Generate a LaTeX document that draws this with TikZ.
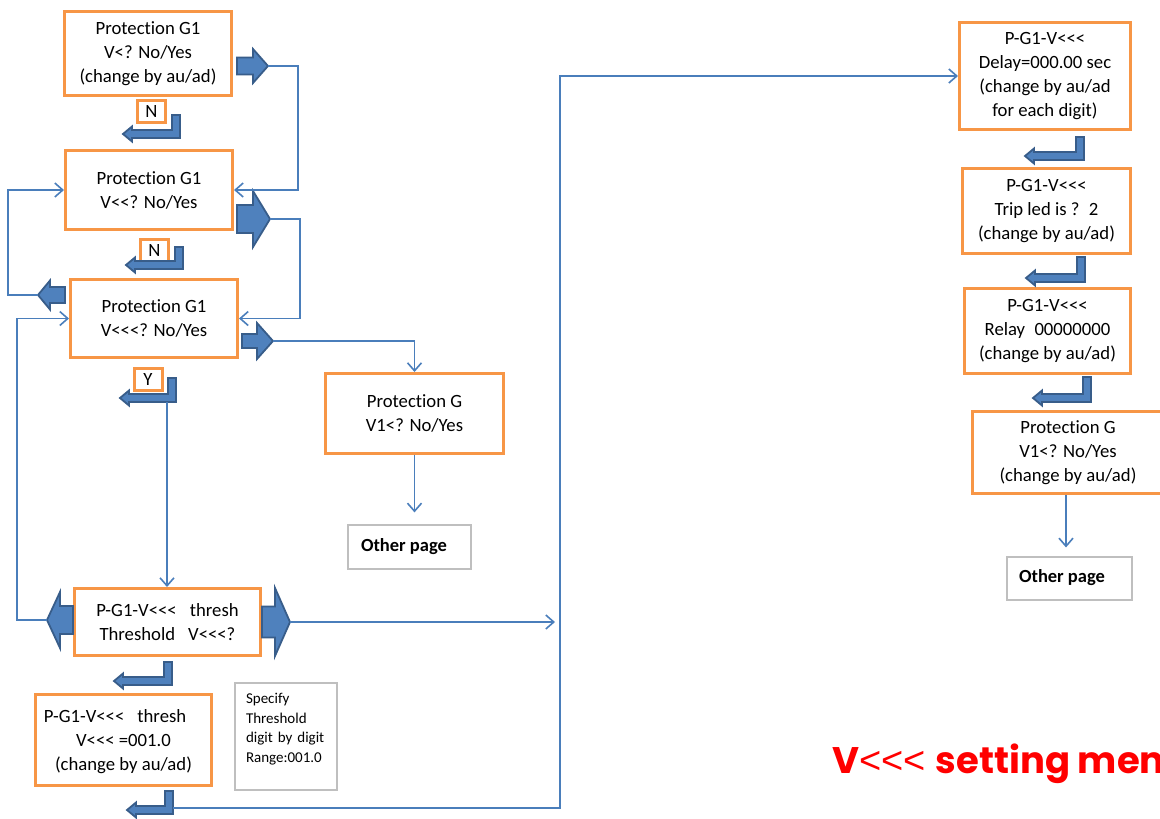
\documentclass[tikz,border=0pt]{standalone}
\usepackage{fontspec}
\setmainfont{Carlito}[Ligatures={TeXOff,CommonOff}]
\newfontfamily\titlefont{Poppins}[Ligatures={TeXOff}]
\newfontfamily\titlesym{Liberation Sans}[Ligatures={TeXOff}]
\usetikzlibrary{arrows.meta}

\definecolor{boxorange}{HTML}{F79646}
\definecolor{arrowfill}{HTML}{4F81BD}
\definecolor{arrowedge}{HTML}{385D8A}
\definecolor{linkblue}{HTML}{4A7EBB}
\definecolor{notegray}{HTML}{BFBFBF}
\definecolor{titlered}{HTML}{FF0000}

% left-turning bent arrow: #1 right edge, #2 top, #3 bottom, #4 tip x
\newcommand{\bentarr}[4]{%
  \filldraw[blockarrow] (#1-8,#2) -- (#1,#2) -- (#1,#3) -- (#4+9,#3)
    -- (#4+9,#3+3.5) -- (#4,#3-4) -- (#4+9,#3-11.5) -- (#4+9,#3-8)
    -- (#1-8,#3-8) -- cycle;}
% straight block arrow: #1 tail x, #2 head base x, #3 tip x, #4 centre y,
% #5 shaft half width, #6 head half width, #7 name of the tip
\newcommand{\blockarr}[7]{%
  \filldraw[blockarrow] (#1,#4-#5) -- (#2,#4-#5) -- (#2,#4-#6) -- (#3,#4)
    -- (#2,#4+#6) -- (#2,#4+#5) -- (#1,#4+#5) -- cycle;
  \coordinate (#7) at (#3,#4);}

\tikzset{
  menubox/.style={draw=boxorange, line width=3pt, fill=white, align=center,
    inner sep=0pt, font=\fontsize{18.7}{24}\selectfont},
  tagbox/.style={draw=boxorange, line width=3pt, fill=white, inner sep=0pt,
    minimum width=28pt, minimum height=22pt, font=\fontsize{18.7}{20}\selectfont},
  pagebox/.style={draw=notegray, line width=1.2pt, fill=white, inner sep=0pt,
    font=\bfseries\fontsize{18.5}{20}\selectfont},
  notebox/.style={draw=notegray, line width=1.2pt, fill=white, align=left,
    inner xsep=11pt, inner ysep=0pt, font=\fontsize{15}{19.5}\selectfont},
  blockarrow/.style={fill=arrowfill, draw=arrowedge, line width=1.8pt,
    line join=miter},
  conn/.style={draw=linkblue, line width=1.6pt,
    -{Straight Barb[length=8pt,width=14pt]}},
}

\begin{document}
\begin{tikzpicture}[x=1pt,y=-1pt]
\useasboundingbox (0,0) rectangle (1160,819);
\clip (0,0) rectangle (1160,819);
\fill[white] (0,0) rectangle (1160,819);

% left column of menu screens
\node[menubox, minimum width=167pt, minimum height=84pt] (box1) at (148,53.5)
  {Protection G1\\V<? No/Yes\\(change by au/ad)};
\node[menubox, minimum width=167pt, minimum height=79pt] (box2) at (149,190)
  {Protection G1\\V<<? No/Yes};
\node[menubox, minimum width=167pt, minimum height=78pt] (box3) at (154,318.5)
  {Protection G1\\V<<<? No/Yes};
\node[menubox, minimum width=178pt, minimum height=80pt] (box4) at (414.5,413.5)
  {Protection G\\V1<? No/Yes};
\node[menubox, minimum width=186pt, minimum height=67pt] (box5) at (167.5,622)
  {P-G1-V<<<\hspace{0.7em}thresh\\Threshold\hspace{0.7em}V<<<?};
\node[menubox, minimum width=176pt, minimum height=91pt] (box6) at (123.5,740)
  {P-G1-V<<<\hspace{0.7em}thresh\hspace{0.9em}\strut\\V<<< =001.0\\(change by au/ad)};

% right column of menu screens
\node[menubox, minimum width=171pt, minimum height=107pt] (box7) at (1045,76)
  {P-G1-V<<<\\Delay=000.00 sec\\(change by au/ad\\for each digit)};
\node[menubox, minimum width=168pt, minimum height=85pt] (box8) at (1046.5,211)
  {P-G1-V<<<\\Trip led is ?\hspace{0.5em}2\\(change by au/ad)};
\node[menubox, minimum width=166pt, minimum height=85pt] (box9) at (1047.5,331)
  {P-G1-V<<<\\Relay\hspace{0.5em}00000000\\(change by au/ad)};
\node[menubox, minimum width=191pt, minimum height=82pt] (box10) at (1068,452.5)
  {Protection G\\V1<? No/Yes\\(change by au/ad)};

% answer tags
\node[tagbox] (tagn1) at (151.5,111.5) {N};
\node[tagbox] (tagn2) at (154.5,250) {N};
\node[tagbox] (tagy) at (148,379.5) {Y};

% continuation and note boxes
\node[pagebox, minimum width=123pt, minimum height=44pt] (other1) at (409.5,547)
  {Other page\hspace{11pt}\strut};
\node[pagebox, minimum width=125pt, minimum height=43pt] (other2) at (1069.5,578.5)
  {Other page\hspace{15pt}\strut};
\node[notebox, text width=80pt, minimum height=107pt] (note) at (286,736.5)
  {Specify\\Threshold\\digit by digit\\Range:001.0\rule[-17pt]{0pt}{1pt}};

% bent step arrows
\bentarr{180}{115}{138}{123}
\bentarr{183}{247}{269}{126}
\bentarr{176}{378}{402}{120}
\bentarr{172}{662}{685}{114}
\bentarr{173}{791}{814}{127}
\bentarr{1084}{137}{160}{1025}
\bentarr{1085}{257}{282}{1026}
\bentarr{1091}{377}{402}{1033}

% block arrows beside the screens
\blockarr{237}{253}{268}{66}{8.5}{17}{a1}
\blockarr{237}{253}{270}{219}{14}{28}{a2}
\blockarr{242}{257}{273}{341}{7}{18}{a3}
\blockarr{65}{50}{38}{295}{8}{14.5}{a3l}
\blockarr{73}{60}{47}{620}{14}{28}{a5l}
\blockarr{262}{275}{290}{622}{15.5}{34}{a5r}

% connector end points
\coordinate (yout) at (167,402);
\coordinate (throut) at (173,808);
\coordinate (joint) at (555,622);

% connectors
\draw[conn] (a1) -- ++(30,0) |- (box2.east);
\draw[conn] (a2) -- ++(30,0) |- (box3.east);
\draw[conn] (a3) -| (box4.north);
\draw[conn] (a3l) -- ++(-30,0) |- (box2.west);
\draw[conn] (a5l) -- ++(-30,0) |- (box3.west);
\draw[conn] (a5r) -- (joint);
\draw[conn] (yout) -- (yout |- box5.north);
\draw[conn] (throut) -- (560,808) |- (box7.west);
\draw[conn, shorten >=12pt] (box4.south) -- (box4.south |- other1.north);
\draw[conn, shorten >=9pt] ([xshift=-2pt]box10.south) -- ([xshift=-2pt]box10.south |- other2.north);

% title
\node[anchor=base west, inner sep=0pt, text=titlered,
  font=\titlefont\fontsize{37}{40}\selectfont] (title) at (832,773)
  {\textbf{V}{\titlesym\fontsize{38}{40}\selectfont<<<} \textbf{setting menu}};
\end{tikzpicture}
\end{document}
